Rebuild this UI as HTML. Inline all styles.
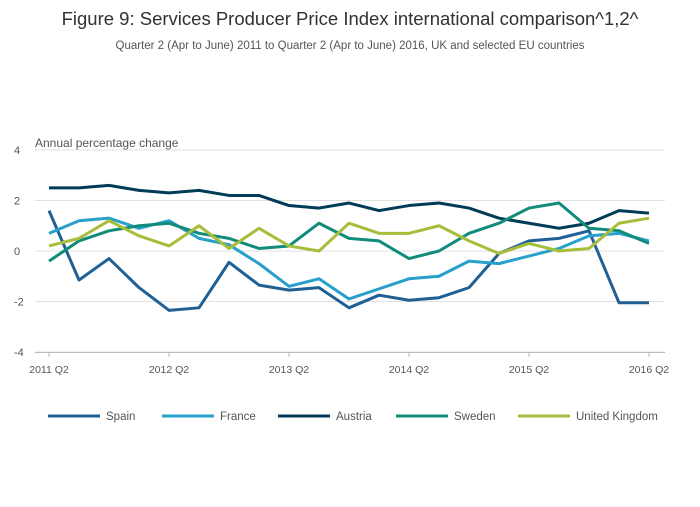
<!DOCTYPE html>
<html><head><meta charset="utf-8"><style>
body{margin:0;background:#fff;font-family:"Liberation Sans",sans-serif;}
svg text{font-family:"Liberation Sans",sans-serif;}
</style></head><body>
<svg id="c" width="700" height="502">
<text x="350" y="25" text-anchor="middle" font-size="18.5" fill="#323132">Figure 9: Services Producer Price Index international comparison^1,2^</text>
<text x="350" y="49" text-anchor="middle" font-size="11.5" fill="#555">Quarter 2 (Apr to June) 2011 to Quarter 2 (Apr to June) 2016, UK and selected EU countries</text>
<text x="35" y="147" font-size="12" fill="#555">Annual percentage change</text>
<g id="grid"></g><g id="lines"></g><g id="legend"></g>
</svg>
<script>
const categories=["2011 Q2","2011 Q3","2011 Q4","2012 Q1","2012 Q2","2012 Q3","2012 Q4","2013 Q1","2013 Q2","2013 Q3","2013 Q4","2014 Q1","2014 Q2","2014 Q3","2014 Q4","2015 Q1","2015 Q2","2015 Q3","2015 Q4","2016 Q1","2016 Q2"];
const spain=[1.6,-1.15,-0.3,-1.45,-2.35,-2.25,-0.45,-1.35,-1.55,-1.45,-2.25,-1.75,-1.95,-1.85,-1.45,-0.1,0.4,0.5,0.8,-2.05,-2.05];
const france=[0.7,1.2,1.3,0.9,1.2,0.5,0.25,-0.5,-1.4,-1.1,-1.9,-1.5,-1.1,-1.0,-0.4,-0.5,-0.2,0.1,0.6,0.7,0.4];
const austria=[2.5,2.5,2.6,2.4,2.3,2.4,2.2,2.2,1.8,1.7,1.9,1.6,1.8,1.9,1.7,1.3,1.1,0.9,1.1,1.6,1.5];
const sweden=[-0.4,0.4,0.8,1.0,1.1,0.7,0.5,0.1,0.2,1.1,0.5,0.4,-0.3,0.0,0.7,1.1,1.7,1.9,0.9,0.8,0.3];
const uk=[0.2,0.5,1.2,0.6,0.2,1.0,0.1,0.9,0.2,0.0,1.1,0.7,0.7,1.0,0.4,-0.1,0.3,0.0,0.1,1.1,1.3];
const yTicks=[4,2,0,-2,-4];
const xTickLabels=["2011 Q2","2012 Q2","2013 Q2","2014 Q2","2015 Q2","2016 Q2"];
const seriesNames=["Spain","France","Austria","Sweden","United Kingdom"];
const colors=["#206095","#27a0cc","#003c57","#118c7b","#a8bd3a"];
const NS="http://www.w3.org/2000/svg";
const x=i=>49+i*30, y=v=>251-v*25.25;
function mk(t,a,p){const e=document.createElementNS(NS,t);for(const k in a)e.setAttribute(k,a[k]);p.appendChild(e);return e;}
const grid=document.getElementById('grid');
yTicks.forEach(v=>{
  const l=mk('line',{x1:35,x2:665,y1:y(v),y2:y(v),stroke:'#e0e0e0','stroke-width':1},grid);
  
  
  const t=mk('text',{x:14,y:y(v)+4,'font-size':11,fill:'#555'},grid);t.textContent=v;
  
  
});
mk('line',{x1:35,x2:665,y1:352.5,y2:352.5,stroke:'#bbb'},grid);
xTickLabels.forEach(lb=>{
  const i=categories.indexOf(lb);
  mk('line',{x1:x(i),x2:x(i),y1:352,y2:357,stroke:'#bbb'},grid);
  const t=mk('text',{x:x(i),y:373,'font-size':10.5,fill:'#555','text-anchor':'middle'},grid);t.textContent=lb;
  
  
});
const data=[spain,france,austria,sweden,uk];
const lines=document.getElementById('lines');
data.forEach((s,k)=>{
  const p=mk('polyline',{points:s.map((v,i)=>x(i)+','+y(v)).join(' '),fill:'none',stroke:colors[k],'stroke-width':3,'stroke-linejoin':'round'},lines);
  
  
});
const leg=document.getElementById('legend');
const lx=[48,162,278,396,518];
seriesNames.forEach((n,k)=>{
  const g=mk('g',{},leg);
  
  
  mk('line',{x1:lx[k],x2:lx[k]+52,y1:416,y2:416,stroke:colors[k],'stroke-width':3},g);
  const t=mk('text',{x:lx[k]+58,y:420,'font-size':11.5,fill:'#555'},g);t.textContent=n;
});
</script>
</body></html>
